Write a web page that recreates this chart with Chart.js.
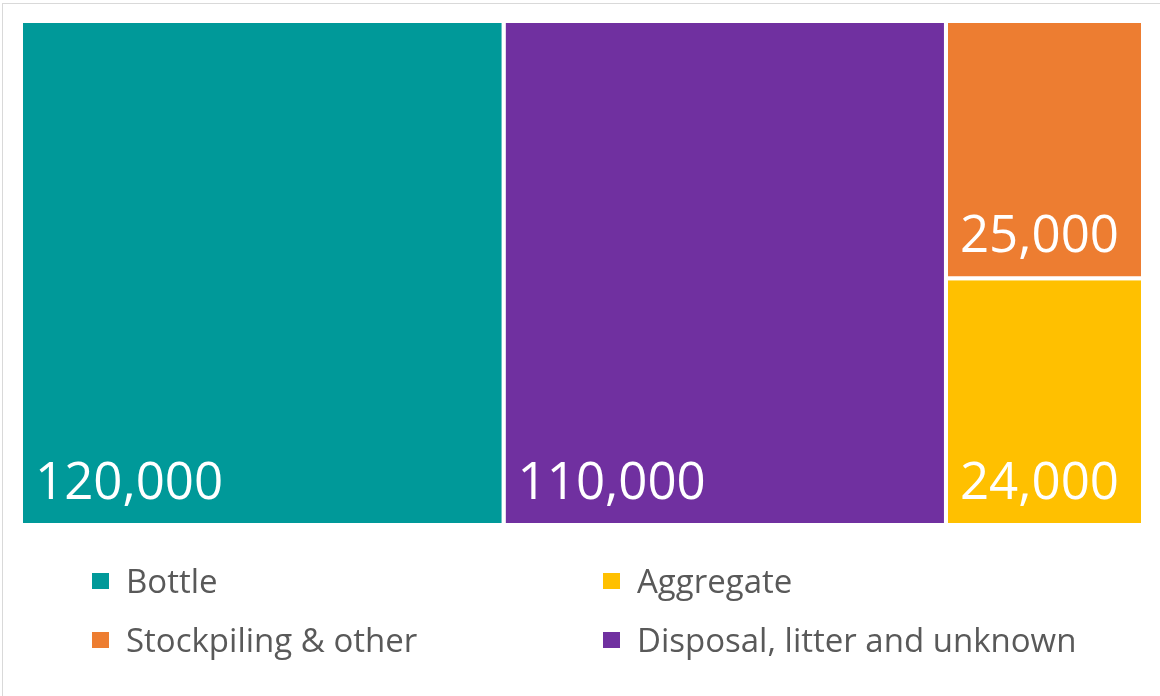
<!DOCTYPE html>
<html>
<head>
<meta charset="utf-8">
<script src="https://cdn.jsdelivr.net/npm/chart.js@4.4.0/dist/chart.umd.min.js"></script>
<style>
  html, body { margin: 0; padding: 0; background: #ffffff; }
  #wrap { position: relative; width: 1160px; height: 696px; overflow: hidden; font-family: 'Open Sans', sans-serif; }
  #frame { position: absolute; left: 2px; top: 3px; right: -10px; bottom: -10px;
           border-top: 1px solid #d9d9d9; border-left: 1px solid #d9d9d9; }
  #chart { position: absolute; left: 0; top: 0; }
  #legend { position: absolute; left: 92px; top: 551px; display: grid;
            grid-template-columns: 511px 520px; grid-template-rows: 59px 59px; grid-auto-flow: column; }
  .item { display: flex; align-items: center; color: #595959; font-size: 33px; white-space: nowrap; }
  .swatch { width: 17px; height: 16px; margin-right: 17px; flex: none; }
</style>
</head>
<body>
<div id="wrap">
  <div id="frame"></div>
  <canvas id="chart" width="1160" height="696"></canvas>
  <div id="legend"></div>
</div>
<script>
// Tonnes by destination
const categories = ['Bottle', 'Disposal, litter and unknown', 'Stockpiling & other', 'Aggregate'];
const tonnes = [120000, 110000, 25000, 24000];
const colours = ['#009999', '#7030A0', '#ED7D31', '#FFC000'];

// Treemap arrangement: each group is one column, members stacked top to bottom
const columnGroups = [[0], [1], [2, 3]];
// Legend reading order (two rows, filled column by column)
const legendOrder = [0, 2, 3, 1];

const total = tonnes.reduce((a, b) => a + b, 0);

// Slice-and-dice layout in value units: x spans the total, y spans 0..1 per column
const cells = [];
let xStart = 0;
columnGroups.forEach(group => {
  const colSum = group.reduce((s, i) => s + tonnes[i], 0);
  let yStart = 0;
  group.forEach(i => {
    const share = tonnes[i] / colSum;
    cells[i] = { x0: xStart, x1: xStart + colSum, y0: yStart, y1: yStart + share };
    yStart += share;
  });
  xStart += colSum;
});

// Each cell is a closed outline filled as a shape; the white outline forms the gaps
const datasets = categories.map((name, i) => {
  const c = cells[i];
  return {
    label: name,
    value: tonnes[i],
    data: [
      { x: c.x0, y: c.y0 }, { x: c.x1, y: c.y0 }, { x: c.x1, y: c.y1 },
      { x: c.x0, y: c.y1 }, { x: c.x0, y: c.y0 }
    ],
    backgroundColor: colours[i],
    borderColor: '#ffffff',
    borderWidth: 4,
    borderJoinStyle: 'miter',
    fill: 'shape',
    pointRadius: 0,
    pointHoverRadius: 0,
    tension: 0
  };
});

// Value written in the lower-left corner of each cell
const valueLabels = {
  id: 'valueLabels',
  afterDatasetsDraw(chart) {
    const { ctx, scales: { x, y } } = chart;
    ctx.save();
    ctx.fillStyle = '#ffffff';
    ctx.font = '51px "Open Sans"';
    ctx.textAlign = 'left';
    ctx.textBaseline = 'alphabetic';
    chart.data.datasets.forEach(ds => {
      const left = x.getPixelForValue(Math.min(...ds.data.map(p => p.x)));
      const bottom = y.getPixelForValue(Math.max(...ds.data.map(p => p.y)));
      ctx.fillText(ds.value.toLocaleString('en-US'), left + 14, bottom - 26);
    });
    ctx.restore();
  }
};

const chart = new Chart(document.getElementById('chart'), {
  type: 'line',
  data: { datasets },
  options: {
    responsive: false,
    animation: false,
    events: [],
    layout: { padding: { left: 21, right: 17, top: 21, bottom: 171 } },
    scales: {
      x: { type: 'linear', min: 0, max: total, display: false },
      y: { type: 'linear', min: 0, max: 1, reverse: true, display: false }
    },
    plugins: {
      legend: { display: false },
      tooltip: { enabled: false }
    }
  },
  plugins: [valueLabels]
});

// Legend built from the chart's datasets
const legendEl = document.getElementById('legend');
legendOrder.forEach(i => {
  const ds = chart.data.datasets[i];
  const item = document.createElement('div');
  item.className = 'item';
  const sw = document.createElement('span');
  sw.className = 'swatch';
  sw.style.background = ds.backgroundColor;
  const txt = document.createElement('span');
  txt.textContent = ds.label;
  item.appendChild(sw);
  item.appendChild(txt);
  legendEl.appendChild(item);
});
</script>
</body>
</html>
